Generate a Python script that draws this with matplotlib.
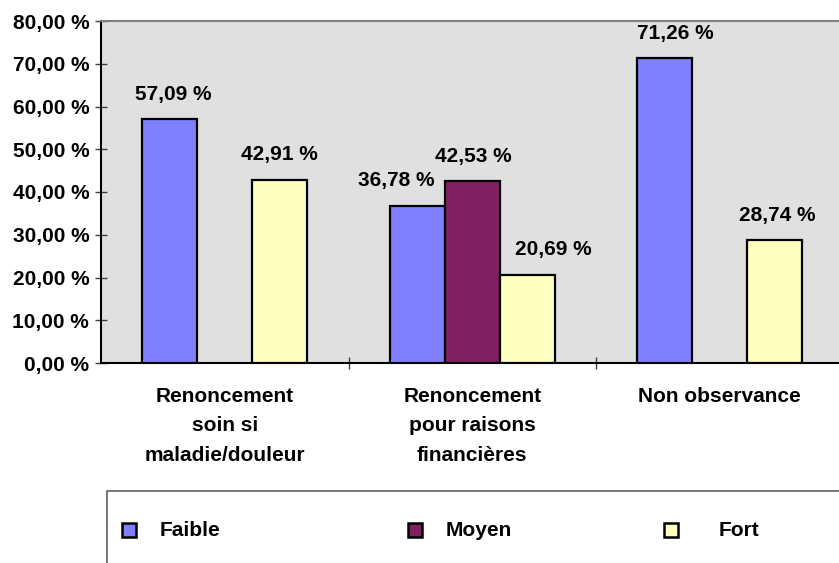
import numpy as np
import matplotlib
matplotlib.use("Agg")
import matplotlib.pyplot as plt
from matplotlib.patches import Rectangle
from matplotlib.transforms import ScaledTranslation

categories = ["Renoncement\nsoin si\nmaladie/douleur",
              "Renoncement\npour raisons\nfinancières",
              "Non observance"]
series = ["Faible", "Moyen", "Fort"]
faible = [57.09, 36.78, 71.26]
moyen = [np.nan, 42.53, np.nan]
fort = [42.91, 20.69, 28.74]
yticks = [0, 10, 20, 30, 40, 50, 60, 70, 80]

COLORS = ["#8080FF", "#802060", "#FFFFC0"]
BG = "#E0E0E0"
FONT = "Liberation Sans"
FS = 15
W, H = 839, 563

# label nudges (pixels) as in the original Excel layout
LBL_DX = [[3, -21, 11], [0, 1, 0], [0, 26, 3]]

plt.rcParams["font.family"] = [FONT, "DejaVu Sans"]
plt.rcParams["font.weight"] = "bold"

fig = plt.figure(figsize=(W / 100, H / 100), dpi=100)
ax = fig.add_axes([101 / W, (H - 363) / H, (843.5 - 101) / W, (363 - 21) / H])
ax.set_facecolor(BG)

x = np.arange(len(categories))
bw = 0.222
for k, (vals, col) in enumerate(zip([faible, moyen, fort], COLORS)):
    pos = x + (k - 1) * bw
    ax.bar(pos, vals, bw, color=col, edgecolor="black", linewidth=1.6, zorder=3)
    for i, v in enumerate(vals):
        if np.isnan(v):
            continue
        ax.annotate(f"{v:.2f} %".replace(".", ","), (pos[i], v),
                    xytext=(LBL_DX[k][i] * 0.72, 11), textcoords="offset points",
                    ha="center", va="bottom", fontsize=FS, fontweight="bold")

ax.set_xlim(-0.5, 2.5)
ax.set_ylim(0, 80)
ax.set_yticks(yticks)
ax.set_yticklabels([f"{t:.2f} %".replace(".", ",") for t in yticks],
                   fontsize=FS, fontweight="bold")
ax.set_xticks(x)
ax.set_xticklabels(categories, fontsize=FS, fontweight="bold", va="top")
shift = ScaledTranslation(5 / 100, 0, fig.dpi_scale_trans)
for lbl in ax.get_xticklabels():
    lbl.set_linespacing(1.7)
    lbl.set_transform(lbl.get_transform() + shift)
ax.tick_params(axis="x", which="major", length=0, pad=17)
ax.set_xticks([0.5, 1.5], minor=True)
ax.tick_params(axis="x", which="minor", direction="inout", length=9, width=1, color="#404040")
ax.tick_params(axis="y", direction="inout", length=9, width=1, pad=4, color="#404040")

for s in ["left", "bottom"]:
    ax.spines[s].set_color("black")
    ax.spines[s].set_linewidth(1.5)
ax.spines["top"].set_color("#808080")
ax.spines["top"].set_linewidth(1.5)
ax.spines["right"].set_visible(False)

# legend box (runs off the bottom/right of the figure like the original)
fig.patches.append(Rectangle((107 / W, -0.05), 1.0, (H - 491) / H + 0.05,
                             transform=fig.transFigure, facecolor="white",
                             edgecolor="#606060", linewidth=1.2))
mk_x = [122, 408, 664]
tx_x = [160, 446, 719]
ly = (H - 530) / H
for name, col, mx, tx in zip(series, COLORS, mk_x, tx_x):
    fig.patches.append(Rectangle((mx / W, ly - 7 / H), 14 / W, 14 / H,
                                 transform=fig.transFigure, facecolor=col,
                                 edgecolor="black", linewidth=1.8))
    fig.text(tx / W, ly, name, ha="left", va="center", fontsize=FS, fontweight="bold")

fig.savefig("out.png", dpi=100)
